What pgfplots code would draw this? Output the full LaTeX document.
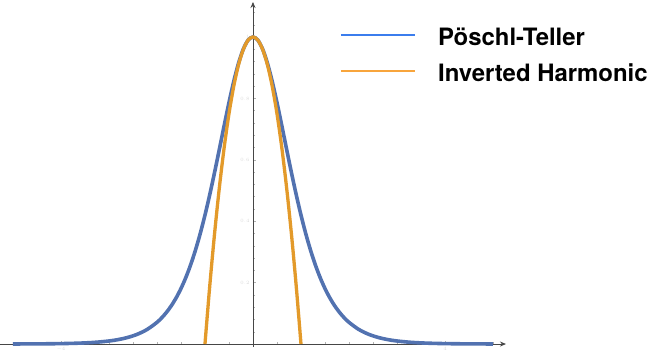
\documentclass[border=0pt]{standalone}
\usepackage{fontspec}
\usepackage{pgfplots}
\pgfplotsset{compat=1.18}
\usetikzlibrary{arrows.meta}
\newfontfamily\heros{TeX Gyre Heros}
\definecolor{curveblue}{RGB}{82,114,176}
\definecolor{curveorange}{RGB}{227,154,42}
\definecolor{legblue}{RGB}{59,125,237}
\definecolor{legorange}{RGB}{248,165,60}
\definecolor{axisgray}{RGB}{70,70,70}
\begin{document}
\begin{tikzpicture}
\begin{axis}[
  scale only axis, width=505.92bp, height=345.07bp,
  xmin=-5.27, xmax=5.27, ymin=-0.01, ymax=1.114,
  axis lines=middle,
  axis line style={draw=axisgray, line width=0.8bp, -{Stealth[length=6bp,width=5bp]}},
  xtick={-4,4}, minor xtick={-5,-4.5,...,5},
  ytick={0.2,0.4,0.6,0.8,1.0}, minor ytick={0.04,0.08,...,1.08},
  tick style={draw=gray!60, line width=0.4bp},
  major tick length=3.5bp, minor tick length=2.2bp,
  tick align=inside,
  tick label style={font=\fontsize{2.5}{3}\selectfont, text=gray!30},
  clip=false,
  legend image code/.code={\draw[#1] (0bp,11bp) -- (74bp,11bp);},
  legend style={draw=none, fill=none, inner sep=0pt, outer sep=0pt,
    at={(0.672,0.9218)}, anchor=north west,
    font={\fontsize{24}{28}\selectfont\heros\bfseries},
    nodes={inner sep=0pt, text height=17bp, text depth=5bp},
    cells={anchor=base west},
    row sep=14bp,
    /tikz/column 1/.style={column sep=22.5bp}},
]
\addplot[curveblue, line width=3.6bp, smooth, forget plot] coordinates {
(-5,0.000182) (-4.5,0.000494) (-4,0.001341) (-3.6,0.002982) (-3.3,0.005427)
(-3,0.009866) (-2.8,0.014683) (-2.6,0.021825) (-2.4,0.032384) (-2.2,0.047925)
(-2,0.070651) (-1.9,0.085609) (-1.8,0.103558) (-1.7,0.125010) (-1.6,0.150527)
(-1.5,0.180707) (-1.4,0.216152) (-1.3,0.257433) (-1.2,0.305020) (-1.1,0.359201)
(-1,0.419974) (-0.9,0.486917) (-0.8,0.559055) (-0.7,0.634739) (-0.6,0.711578)
(-0.5,0.786448) (-0.4,0.855639) (-0.3,0.915137) (-0.2,0.961043) (-0.1,0.990066)
(0,1)
(0.1,0.990066) (0.2,0.961043) (0.3,0.915137) (0.4,0.855639) (0.5,0.786448)
(0.6,0.711578) (0.7,0.634739) (0.8,0.559055) (0.9,0.486917) (1,0.419974)
(1.1,0.359201) (1.2,0.305020) (1.3,0.257433) (1.4,0.216152) (1.5,0.180707)
(1.6,0.150527) (1.7,0.125010) (1.8,0.103558) (1.9,0.085609) (2,0.070651)
(2.2,0.047925) (2.4,0.032384) (2.6,0.021825) (2.8,0.014683) (3,0.009866)
(3.3,0.005427) (3.6,0.002982) (4,0.001341) (4.5,0.000494) (5,0.000182)
};
\addplot[curveorange, line width=3.3bp, smooth, forget plot] coordinates {
(-1,0) (-0.9,0.19) (-0.8,0.36) (-0.7,0.51) (-0.6,0.64) (-0.5,0.75)
(-0.4,0.84) (-0.3,0.91) (-0.2,0.96) (-0.1,0.99) (0,1)
(0.1,0.99) (0.2,0.96) (0.3,0.91) (0.4,0.84) (0.5,0.75)
(0.6,0.64) (0.7,0.51) (0.8,0.36) (0.9,0.19) (1,0)
};
\addlegendimage{legblue, line width=1.6bp}
\addlegendentry{Pöschl-Teller}
\addlegendimage{legorange, line width=1.6bp}
\addlegendentry{Inverted Harmonic}
\coordinate (bbBL) at (axis cs:-5.27,-0.04886);
\coordinate (bbTR) at (axis cs:8.375,1.1205);
\end{axis}
\pgfresetboundingbox
\useasboundingbox (bbBL) rectangle (bbTR);
\end{tikzpicture}
\end{document}
